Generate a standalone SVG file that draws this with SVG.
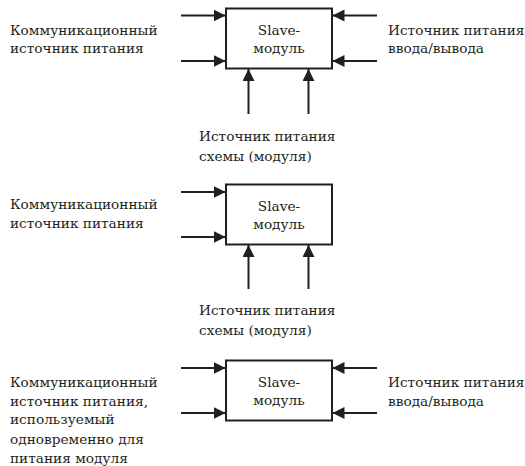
<svg xmlns="http://www.w3.org/2000/svg" width="525" height="466" viewBox="0 0 525 466">
<defs>
<marker id="ah" markerWidth="13" markerHeight="13" refX="12" refY="6" orient="auto" markerUnits="userSpaceOnUse">
<path d="M0,0 L12,6 L0,12 Z" fill="#231f20"/>
</marker>
<style>
.box{fill:#fff;stroke:#231f20;stroke-width:2}
.c{stroke:#231f20;stroke-width:2;fill:none;marker-end:url(#ah)}
text{font-family:"DejaVu Serif","Liberation Serif",serif;font-size:13.7px;fill:#231f20}
.m{text-anchor:middle}
</style>
</defs>
<rect width="525" height="466" fill="#fff"/>
<g id="connectors">
<line class="c" x1="181" y1="15.5" x2="225.5" y2="15.5"/>
<line class="c" x1="181" y1="61" x2="225.5" y2="61"/>
<line class="c" x1="377" y1="15.5" x2="332.5" y2="15.5"/>
<line class="c" x1="377" y1="61" x2="332.5" y2="61"/>
<line class="c" x1="248.5" y1="114" x2="248.5" y2="69"/>
<line class="c" x1="308.5" y1="114" x2="308.5" y2="69"/>
<line class="c" x1="181" y1="192" x2="225.5" y2="192"/>
<line class="c" x1="181" y1="237" x2="225.5" y2="237"/>
<line class="c" x1="248.5" y1="289" x2="248.5" y2="245"/>
<line class="c" x1="308.5" y1="289" x2="308.5" y2="245"/>
<line class="c" x1="181" y1="368" x2="225.5" y2="368"/>
<line class="c" x1="181" y1="413" x2="225.5" y2="413"/>
<line class="c" x1="377" y1="368" x2="332.5" y2="368"/>
<line class="c" x1="377" y1="413" x2="332.5" y2="413"/>
</g>
<g id="module1">
<rect class="box" x="226" y="8.5" width="106" height="60"/>
<text class="m" x="279" y="35">Slave-</text>
<text class="m" x="279" y="53">модуль</text>
</g>
<g id="comm1">
<text x="10" y="35">Коммуникационный</text>
<text x="10" y="53">источник питания</text>
</g>
<g id="io1">
<text x="388" y="35">Источник питания</text>
<text x="388" y="53">ввода/вывода</text>
</g>
<g id="circuit1">
<text x="199" y="141">Источник питания</text>
<text x="199" y="161">схемы (модуля)</text>
</g>
<g id="module2">
<rect class="box" x="226" y="184.5" width="106" height="60"/>
<text class="m" x="279" y="211">Slave-</text>
<text class="m" x="279" y="229">модуль</text>
</g>
<g id="comm2">
<text x="10" y="209">Коммуникационный</text>
<text x="10" y="228">источник питания</text>
</g>
<g id="circuit2">
<text x="199" y="315">Источник питания</text>
<text x="199" y="335">схемы (модуля)</text>
</g>
<g id="module3">
<rect class="box" x="226" y="360.5" width="106" height="60"/>
<text class="m" x="279" y="387">Slave-</text>
<text class="m" x="279" y="405">модуль</text>
</g>
<g id="comm3">
<text x="10" y="387">Коммуникационный</text>
<text x="10" y="406">источник питания,</text>
<text x="10" y="424">используемый</text>
<text x="10" y="444">одновременно для</text>
<text x="10" y="463">питания модуля</text>
</g>
<g id="io3">
<text x="388" y="387">Источник питания</text>
<text x="388" y="406">ввода/вывода</text>
</g>
</svg>
